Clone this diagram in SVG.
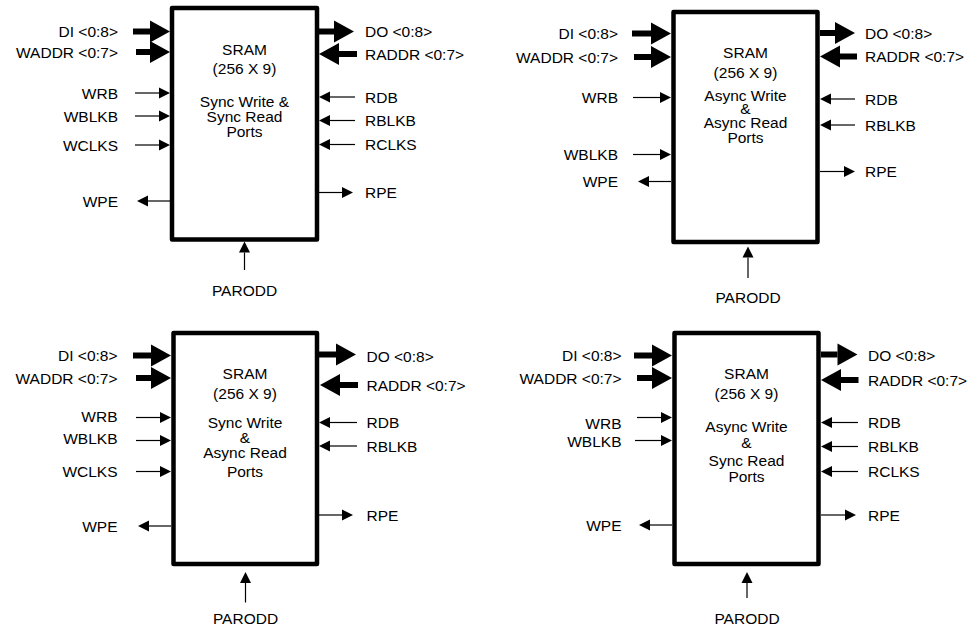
<svg xmlns="http://www.w3.org/2000/svg" width="972" height="630" viewBox="0 0 972 630">
<style>
.box{fill:#fff;stroke:#000;stroke-width:4.5;stroke-linejoin:round}
text{font-family:"Liberation Sans",Arial,sans-serif;font-size:15.5px;fill:#000}
.e{text-anchor:end}
.m{text-anchor:middle}
.bus{stroke:#000;stroke-width:6;fill:none;marker-end:url(#hb)}
.sig{stroke:#000;stroke-width:1.2;fill:none;marker-end:url(#hs)}
</style>
<defs>
<marker id="hb" markerUnits="userSpaceOnUse" markerWidth="20" markerHeight="22" viewBox="0 -11 20 22" refX="0" refY="0" orient="auto" overflow="visible"><path d="M0,-11 L20,0 L0,11Z" fill="#000"/></marker>
<marker id="hs" markerUnits="userSpaceOnUse" markerWidth="11" markerHeight="11" viewBox="0 -5.5 11 11" refX="0" refY="0" orient="auto" overflow="visible"><path d="M0,-5.5 L11,0 L0,5.5Z" fill="#000"/></marker>
</defs>

<g id="sram1">
<rect class="box" x="172" y="8" width="145" height="231.5"/>
<text class="m"><tspan x="244.5" y="54.5">SRAM</tspan><tspan x="244.5" y="74">(256 X 9)</tspan></text>
<text class="m"><tspan x="244.5" y="106.5">Sync Write &amp;</tspan><tspan x="244.5" y="121.5">Sync Read</tspan><tspan x="244.5" y="136.5">Ports</tspan></text>
</g>
<g id="sram2">
<rect class="box" x="673.5" y="12" width="144" height="230"/>
<text class="m"><tspan x="745.5" y="57.5">SRAM</tspan><tspan x="745.5" y="78">(256 X 9)</tspan></text>
<text class="m"><tspan x="745.5" y="100.5">Async Write</tspan><tspan x="745.5" y="113.5">&amp;</tspan><tspan x="745.5" y="128">Async Read</tspan><tspan x="745.5" y="143">Ports</tspan></text>
</g>
<g id="sram3">
<rect class="box" x="173.5" y="333" width="143.5" height="231"/>
<text class="m"><tspan x="245" y="378.5">SRAM</tspan><tspan x="245" y="398.5">(256 X 9)</tspan></text>
<text class="m"><tspan x="245" y="428">Sync Write</tspan><tspan x="245" y="443">&amp;</tspan><tspan x="245" y="458">Async Read</tspan><tspan x="245" y="476.5">Ports</tspan></text>
</g>
<g id="sram4">
<rect class="box" x="674.5" y="333" width="144" height="231"/>
<text class="m"><tspan x="746.5" y="378.5">SRAM</tspan><tspan x="746.5" y="398.5">(256 X 9)</tspan></text>
<text class="m"><tspan x="746.5" y="431.5">Async Write</tspan><tspan x="746.5" y="447.5">&amp;</tspan><tspan x="746.5" y="465.5">Sync Read</tspan><tspan x="746.5" y="482">Ports</tspan></text>
</g>

<g id="labels">
<text class="e" x="118" y="37">DI &lt;0:8&gt;</text>
<text class="e" x="118" y="57.5">WADDR &lt;0:7&gt;</text>
<text class="e" x="118" y="98.5">WRB</text>
<text class="e" x="118" y="121.5">WBLKB</text>
<text class="e" x="118" y="150.5">WCLKS</text>
<text class="e" x="118" y="206.5">WPE</text>
<text x="365" y="37">DO &lt;0:8&gt;</text>
<text x="365" y="59.5">RADDR &lt;0:7&gt;</text>
<text x="365" y="102.5">RDB</text>
<text x="365" y="126">RBLKB</text>
<text x="365" y="150">RCLKS</text>
<text x="365" y="198">RPE</text>
<text class="m" x="244.5" y="295.5">PARODD</text>
<text class="e" x="618" y="39">DI &lt;0:8&gt;</text>
<text class="e" x="618" y="62.5">WADDR &lt;0:7&gt;</text>
<text class="e" x="618" y="103">WRB</text>
<text class="e" x="618" y="160">WBLKB</text>
<text class="e" x="618" y="187">WPE</text>
<text x="865" y="38.5">DO &lt;0:8&gt;</text>
<text x="865" y="62">RADDR &lt;0:7&gt;</text>
<text x="865" y="104.5">RDB</text>
<text x="865" y="130.5">RBLKB</text>
<text x="865" y="177">RPE</text>
<text class="m" x="748" y="302.8">PARODD</text>
<text class="e" x="117.5" y="361">DI &lt;0:8&gt;</text>
<text class="e" x="117.5" y="383.5">WADDR &lt;0:7&gt;</text>
<text class="e" x="117.5" y="422">WRB</text>
<text class="e" x="117.5" y="444">WBLKB</text>
<text class="e" x="117.5" y="477">WCLKS</text>
<text class="e" x="117.5" y="531.5">WPE</text>
<text x="366.5" y="361.5">DO &lt;0:8&gt;</text>
<text x="366.5" y="390.5">RADDR &lt;0:7&gt;</text>
<text x="366.5" y="428">RDB</text>
<text x="366.5" y="451.5">RBLKB</text>
<text x="366.5" y="520.5">RPE</text>
<text class="m" x="245.5" y="623.5">PARODD</text>
<text class="e" x="621.5" y="361">DI &lt;0:8&gt;</text>
<text class="e" x="621.5" y="383.5">WADDR &lt;0:7&gt;</text>
<text class="e" x="621.5" y="428.5">WRB</text>
<text class="e" x="621.5" y="447">WBLKB</text>
<text class="e" x="621.5" y="530.5">WPE</text>
<text x="868" y="360.5">DO &lt;0:8&gt;</text>
<text x="868" y="385.5">RADDR &lt;0:7&gt;</text>
<text x="868" y="428">RDB</text>
<text x="868" y="452">RBLKB</text>
<text x="868" y="477">RCLKS</text>
<text x="868" y="520.5">RPE</text>
<text class="m" x="747" y="623.5">PARODD</text>
</g>

<g id="connectors">
<line class="bus" x1="133" y1="31.5" x2="150" y2="31.5"/>
<line class="bus" x1="136" y1="52" x2="150" y2="52"/>
<line class="sig" x1="135" y1="93" x2="159" y2="93"/>
<line class="sig" x1="135" y1="116" x2="159" y2="116"/>
<line class="sig" x1="135" y1="145" x2="159" y2="145"/>
<line class="sig" x1="170" y1="201" x2="148" y2="201"/>
<line class="bus" x1="319" y1="31.5" x2="334" y2="31.5"/>
<line class="bus" x1="357" y1="54" x2="339" y2="54"/>
<line class="sig" x1="355" y1="97" x2="330" y2="97"/>
<line class="sig" x1="355" y1="120.5" x2="330" y2="120.5"/>
<line class="sig" x1="355" y1="144.5" x2="330" y2="144.5"/>
<line class="sig" x1="319" y1="192.5" x2="342" y2="192.5"/>
<line class="sig" x1="244.5" y1="270" x2="244.5" y2="252.5"/>
<line class="bus" x1="632" y1="33.5" x2="651" y2="33.5"/>
<line class="bus" x1="634" y1="57" x2="651" y2="57"/>
<line class="sig" x1="633" y1="97.5" x2="660" y2="97.5"/>
<line class="sig" x1="633" y1="154.5" x2="660" y2="154.5"/>
<line class="sig" x1="671" y1="181.5" x2="649" y2="181.5"/>
<line class="bus" x1="820" y1="33" x2="835" y2="33"/>
<line class="bus" x1="857" y1="56.5" x2="840" y2="56.5"/>
<line class="sig" x1="855" y1="99" x2="831" y2="99"/>
<line class="sig" x1="855" y1="125" x2="831" y2="125"/>
<line class="sig" x1="820" y1="171.5" x2="844" y2="171.5"/>
<line class="sig" x1="748" y1="278" x2="748" y2="257.5"/>
<line class="bus" x1="133" y1="355.5" x2="151" y2="355.5"/>
<line class="bus" x1="136" y1="378" x2="151" y2="378"/>
<line class="sig" x1="136" y1="417.5" x2="160" y2="417.5"/>
<line class="sig" x1="136" y1="440.5" x2="160" y2="440.5"/>
<line class="sig" x1="136" y1="471.5" x2="160" y2="471.5"/>
<line class="sig" x1="171" y1="526" x2="149" y2="526"/>
<line class="bus" x1="319" y1="354.5" x2="336" y2="354.5"/>
<line class="bus" x1="358" y1="385" x2="340" y2="385"/>
<line class="sig" x1="357" y1="422.5" x2="330" y2="422.5"/>
<line class="sig" x1="357" y1="446" x2="330" y2="446"/>
<line class="sig" x1="319" y1="515" x2="342" y2="515"/>
<line class="sig" x1="245.5" y1="602.5" x2="245.5" y2="583"/>
<line class="bus" x1="634" y1="355.5" x2="652" y2="355.5"/>
<line class="bus" x1="637" y1="378" x2="652" y2="378"/>
<line class="sig" x1="637" y1="417.5" x2="661" y2="417.5"/>
<line class="sig" x1="635" y1="440.5" x2="661" y2="440.5"/>
<line class="sig" x1="672" y1="525" x2="650" y2="525"/>
<line class="bus" x1="821" y1="354.5" x2="837.5" y2="354.5"/>
<line class="bus" x1="858.5" y1="380" x2="841" y2="380"/>
<line class="sig" x1="858" y1="422.5" x2="832" y2="422.5"/>
<line class="sig" x1="858" y1="446.5" x2="832" y2="446.5"/>
<line class="sig" x1="858" y1="471.5" x2="832" y2="471.5"/>
<line class="sig" x1="821" y1="515" x2="845" y2="515"/>
<line class="sig" x1="747" y1="598" x2="747" y2="583"/>
</g>
</svg>
